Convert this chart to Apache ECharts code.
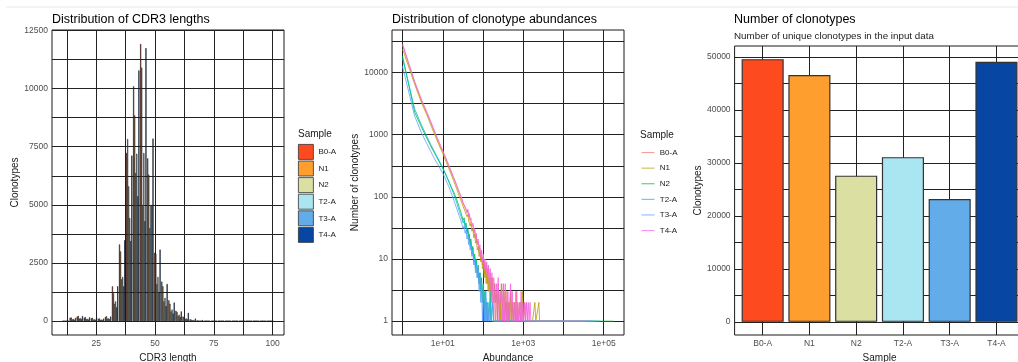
<!DOCTYPE html>
<html><head><meta charset="utf-8">
<script src="https://cdn.jsdelivr.net/npm/echarts@6/dist/echarts.min.js"></script>
<style>html,body{margin:0;padding:0;background:#fff}#c{width:1018px;height:362px}</style>
</head><body><div id="c"></div>
<script>
// ---------- data ----------
const samples = ['B0-A', 'N1', 'N2', 'T2-A', 'T3-A', 'T4-A'];
const barColors = ['#FD4B1F', '#FE9E2F', '#DBDFA2', '#A9E6F1', '#63ACEA', '#0747A3'];
const lineColors = ['#F8766D', '#B79F00', '#00BA38', '#00BFC4', '#619CFF', '#F564E3'];

// Panel 1: CDR3 length distribution
const cdr3Lengths = [12,15,18,21,24,27,30,33,36,39,42,45,48,51,54,57,60,63,66,69,72,75,78,81,84,87,90,93,96,99];
const lenB0A = [30,150,200,150,120,100,180,1500,3300,7230,10100,11920,7000,2940,1700,900,450,200,80,40,20,15,8,5,3,2,1,1,0,1];
const lenN1  = [20,160,230,180,150,120,220,1200,3000,7830,8850,10900,6300,2900,1500,750,400,180,70,30,15,10,5,3,2,1,1,0,0,0];
const lenN2  = [10,80,110,90,70,60,110,750,1800,5800,6370,5000,4000,1600,850,420,230,100,40,20,10,6,3,2,1,1,0,0,0,0];
const lenT2A = [10,90,130,100,80,70,120,850,1900,4440,7200,7230,5000,1900,1000,500,280,120,50,20,10,6,3,2,1,0,0,0,0,0];
const lenT3A = [10,60,90,70,60,50,90,600,1500,3450,5370,4300,5000,1250,650,330,180,80,30,15,8,4,2,1,0,0,0,0,0,0];
const lenT4A = [20,140,220,170,150,110,200,1500,3480,7120,10780,11740,7850,3080,1600,800,420,360,110,50,25,15,8,4,3,2,1,1,1,1];
const lengthLabelTicks = [25, 50, 75, 100];
const lengthGridTicks = [12.5, 25, 37.5, 50, 62.5, 75, 87.5, 100];
const lengthCountLabelTicks = [0, 2500, 5000, 7500, 10000, 12500];
const lengthCountGridTicks = [0, 1250, 2500, 3750, 5000, 6250, 7500, 8750, 10000, 11250, 12500];

// Panel 2: clonotype abundance distribution [abundance, number of clonotypes]
const abundB0A = [[1,27500],[2,7000],[3,3450],[4,2250],[5,1580],[6,1170],[7,910],[8,745],[9,620],[10,535],[11,460],[12,400],[13,355],[14,315],[15,282],[16,254],[17,230],[18,210],[19,193],[20,178],[22,152],[24,130],[26,113],[28,100],[30,89],[32,78],[34,82],[36,66],[38,70],[40,55],[42,60],[44,47],[46,51],[48,40],[50,43],[53,33],[56,36],[59,26],[62,29],[65,21],[68,24],[72,17],[76,19],[80,13],[84,15],[88,10],[92,13],[97,8],[102,11],[107,6],[112,9],[118,5],[124,8],[130,4],[137,7],[144,3],[151,6],[159,2],[167,5],[176,3],[185,1],[195,4],[205,2],[216,3],[227,1],[239,4],[251,2],[264,1],[278,3],[292,1],[307,2],[323,4],[340,1],[357,2],[376,1],[395,3],[416,1],[437,2],[460,1],[484,3],[509,1],[535,2],[563,1],[592,1],[623,2],[655,1],[689,3],[725,1],[763,1],[802,2],[844,1],[888,1],[934,2],[982,1],[1100,1],[1200,2],[1300,1],[1500,1],[1800,1],[4500,1],[52000,1]];
const abundN1 = [[1,24000],[2,6500],[3,3200],[4,2100],[5,1450],[6,1080],[7,850],[8,690],[9,580],[10,500],[11,430],[12,372],[13,326],[14,290],[15,260],[16,233],[17,211],[18,192],[19,175],[20,160],[22,136],[24,116],[26,101],[28,89],[30,79],[32,70],[34,74],[36,58],[38,62],[40,48],[42,52],[44,41],[46,44],[48,34],[50,37],[53,28],[56,31],[59,22],[62,25],[65,18],[68,21],[72,14],[76,16],[80,11],[84,13],[88,9],[92,11],[97,7],[102,9],[107,5],[113,8],[120,4],[127,7],[134,3],[141,5],[149,4],[157,2],[166,5],[175,3],[185,2],[195,4],[206,2],[218,3],[230,1],[243,3],[256,2],[270,1],[285,4],[301,2],[318,1],[336,2],[355,3],[375,1],[396,2],[418,1],[441,2],[466,1],[492,3],[520,1],[549,2],[580,1],[612,2],[646,1],[682,1],[720,2],[760,1],[802,1],[850,2],[900,1],[960,3],[1010,1],[1080,2],[1150,1],[1250,1],[1380,1],[1520,1],[1700,1],[1950,2],[2050,1],[2450,2],[2550,1],[3000,1],[9000,1]];
const abundN2 = [[1,18500],[2,2300],[3,1300],[4,880],[5,660],[6,530],[7,440],[8,375],[9,325],[10,285],[11,250],[12,222],[13,198],[14,178],[15,162],[16,148],[17,136],[18,126],[19,117],[20,110],[22,92],[24,78],[26,66],[28,57],[30,49],[32,42],[34,46],[36,35],[38,38],[40,28],[42,31],[44,23],[46,25],[48,18],[50,21],[53,14],[56,16],[59,10],[62,12],[65,8],[68,10],[72,6],[76,8],[80,4],[84,6],[88,3],[92,5],[97,2],[102,4],[107,1],[112,3],[118,1],[124,2],[131,1],[139,1],[148,2],[158,1],[175,1],[210,1],[350,1],[1200,1],[175000,1]];
const abundT2A = [[1,17000],[2,2600],[3,1400],[4,950],[5,700],[6,560],[7,460],[8,390],[9,335],[10,295],[11,258],[12,228],[13,202],[14,180],[15,160],[16,144],[17,130],[18,118],[19,108],[20,99],[22,82],[24,68],[26,58],[28,50],[30,44],[32,38],[34,42],[36,31],[38,35],[40,25],[42,29],[44,20],[46,23],[48,16],[50,19],[53,12],[56,15],[59,9],[62,11],[65,7],[68,9],[72,5],[76,7],[80,4],[84,6],[88,3],[92,4],[97,2],[102,4],[107,1],[113,3],[119,2],[126,1],[133,2],[141,1],[150,3],[160,1],[170,2],[182,1],[196,1],[230,1],[320,1],[800,1],[4000,1],[80000,1]];
const abundT3A = [[1,12500],[2,2000],[3,1050],[4,720],[5,540],[6,430],[7,360],[8,310],[9,270],[10,240],[11,210],[12,185],[13,165],[14,148],[15,132],[16,118],[17,106],[18,96],[19,87],[20,79],[22,66],[24,56],[26,48],[28,42],[30,36],[32,31],[34,34],[36,26],[38,29],[40,21],[42,24],[44,17],[46,20],[48,14],[50,16],[53,11],[56,13],[59,8],[62,10],[65,6],[68,8],[72,5],[76,7],[80,3],[84,5],[88,2],[92,4],[97,1],[102,3],[107,2],[112,1],[118,3],[124,1],[130,2],[137,1],[145,2],[153,1],[162,1],[172,2],[185,1],[210,1],[290,1],[600,1],[2500,1],[60000,1]];
const abundT4A = [[1,29000],[2,7200],[3,3600],[4,2350],[5,1650],[6,1230],[7,960],[8,780],[9,650],[10,560],[11,480],[12,420],[13,370],[14,330],[15,295],[16,265],[17,240],[18,218],[19,200],[20,185],[22,158],[24,135],[26,118],[28,104],[30,93],[32,80],[34,86],[36,70],[38,74],[40,58],[42,63],[44,50],[46,54],[48,42],[50,46],[53,35],[56,38],[59,28],[62,31],[65,23],[68,26],[72,18],[76,21],[80,14],[84,17],[88,11],[92,14],[97,9],[102,12],[107,7],[112,10],[118,6],[124,9],[130,5],[137,8],[144,4],[151,7],[159,3],[167,6],[176,2],[185,5],[195,3],[205,1],[216,4],[227,2],[239,5],[251,1],[264,3],[278,2],[292,4],[307,1],[323,3],[340,1],[357,4],[376,2],[395,1],[416,3],[437,1],[460,2],[484,4],[509,1],[535,3],[563,1],[592,2],[623,1],[655,3],[689,1],[725,2],[763,1],[802,2],[844,1],[888,3],[934,1],[982,2],[1033,1],[1087,2],[1143,1],[1203,2],[1265,1],[1331,2],[1400,1],[1473,2],[1550,1],[1630,1],[2000,1],[8000,1],[36000,1]];
const abundExpLabelTicks = [1, 3, 5];
const abundExpGridTicks = [0, 1, 2, 3, 4, 5];
const countExpLabelTicks = [0, 1, 2, 3, 4];
const countExpGridTicks = [0, 0.5, 1, 1.5, 2, 2.5, 3, 3.5, 4, 4.5];

// Panel 3: number of clonotypes per sample
const clonotypeTotals = [49600, 46600, 27600, 31100, 23200, 49100];
const totalsLabelTicks = [0, 10000, 20000, 30000, 40000, 50000];
const totalsGridTicks = [0, 5000, 10000, 15000, 20000, 25000, 30000, 35000, 40000, 45000, 50000];

// ---------- build ----------
const FONT = 'Liberation Sans, Arial, sans-serif';
const lengthSets = [lenB0A, lenN1, lenN2, lenT2A, lenT3A, lenT4A];
const abundSets = [abundB0A, abundN1, abundN2, abundT2A, abundT3A, abundT4A];
const GRIDLINE = { show: true, lineStyle: { color: '#222', width: 1 } };

function axis(gridIndex, min, max, labelVals, gridVals, fmt, name, nameGap) {
  return {
    type: 'value', gridIndex, min, max,
    axisLine: { show: false },
    axisTick: { show: false, customValues: gridVals },
    splitLine: GRIDLINE,
    axisLabel: { customValues: labelVals, formatter: fmt, color: '#4D4D4D', fontSize: 8.5, fontFamily: FONT, margin: 4 },
    name, nameLocation: 'middle', nameGap,
    nameTextStyle: { color: '#1a1a1a', fontSize: 10, fontFamily: FONT }
  };
}

const series = [];
samples.forEach((s, i) => {
  series.push({
    type: 'bar', name: s, xAxisIndex: 0, yAxisIndex: 0,
    data: cdr3Lengths.map((L, j) => [L, lengthSets[i][j]]),
    barGap: '0%', barCategoryGap: '10%',
    itemStyle: { color: barColors[i], borderColor: '#111', borderWidth: 0.55 }
  });
});
samples.forEach((s, i) => {
  series.push({
    type: 'line', name: 'line:' + s, xAxisIndex: 1, yAxisIndex: 1,
    symbol: 'none', showSymbol: false,
    data: abundSets[i].map(p => [Math.log10(p[0]), Math.log10(p[1])]),
    lineStyle: { color: lineColors[i], width: 1, opacity: 0.8 },
    itemStyle: { color: lineColors[i] }
  });
});
series.push({
  type: 'bar', name: 'totals', xAxisIndex: 2, yAxisIndex: 2,
  barCategoryGap: '10%',
  data: clonotypeTotals.map((v, i) => ({ value: [i + 1, v], itemStyle: { color: barColors[i] } })),
  itemStyle: { borderColor: '#333', borderWidth: 1.2 }
});

const titleStyle = { fontSize: 12.5, fontWeight: 'normal', color: '#000', fontFamily: FONT };
const legTitleStyle = { fontSize: 10, fontWeight: 'normal', color: '#1a1a1a', fontFamily: FONT };
const gridBase = { show: true, borderColor: '#1a1a1a', borderWidth: 1, containLabel: false, outerBoundsMode: 'none' };
const LINE_ICON = 'path://M0,0 L0,0 M13,14 L13,14 M0,6.5 L13,6.5 L13,7.6 L0,7.6 Z';

const option = {
  animation: false,
  backgroundColor: '#fff',
  title: [
    { text: 'Distribution of CDR3 lengths', left: 52, top: 13, padding: 0, textStyle: titleStyle },
    { text: 'Distribution of clonotype abundances', left: 392, top: 13, padding: 0, textStyle: titleStyle },
    { text: 'Number of clonotypes', left: 734, top: 13, padding: 0, textStyle: titleStyle },
    { text: 'Number of unique clonotypes in the input data', left: 734, top: 31, padding: 0,
      textStyle: { fontSize: 9.8, fontWeight: 'normal', color: '#1a1a1a', fontFamily: FONT } },
    { text: 'Sample', left: 298, top: 129, padding: 0, textStyle: legTitleStyle },
    { text: 'Sample', left: 640, top: 130, padding: 0, textStyle: legTitleStyle }
  ],
  legend: [
    { data: samples, orient: 'vertical', left: 298, top: 144, padding: 0,
      itemWidth: 15, itemHeight: 15, itemGap: 0.8, icon: 'rect', selectedMode: false,
      itemStyle: { borderColor: '#333', borderWidth: 0.8 },
      textStyle: { fontSize: 8, color: '#222', fontFamily: FONT } },
    { data: samples.map(s => 'line:' + s), formatter: n => n.slice(5),
      orient: 'vertical', left: 641.5, top: 145.5, padding: 0,
      icon: LINE_ICON, itemWidth: 13.5, itemHeight: 14, itemGap: 1.6, selectedMode: false,
      itemStyle: { opacity: 0.7, borderWidth: 0 },
      textStyle: { fontSize: 8, color: '#222', fontFamily: FONT } }
  ],
  grid: [
    Object.assign({ left: 52, top: 30, width: 232, height: 305 }, gridBase),
    Object.assign({ left: 392, top: 30, width: 232, height: 305 }, gridBase),
    Object.assign({ left: 734.6, top: 46, width: 289.9, height: 289 }, gridBase)
  ],
  xAxis: [
    axis(0, 6.165, 104.835, lengthLabelTicks, lengthGridTicks, v => String(v), 'CDR3 length', 15),
    axis(1, -0.262, 5.505, abundExpLabelTicks, abundExpGridTicks, v => '1e+0' + v, 'Abundance', 15),
    axis(2, 0.4, 6.6, [1, 2, 3, 4, 5, 6], [1, 2, 3, 4, 5, 6], v => samples[Math.round(v) - 1], 'Sample', 15)
  ],
  yAxis: [
    axis(0, -596, 12516, lengthCountLabelTicks, lengthCountGridTicks, v => String(v), 'Clonotypes', 30),
    axis(1, -0.223, 4.685, countExpLabelTicks, countExpGridTicks, v => String(Math.round(Math.pow(10, v))), 'Number of clonotypes', 24),
    axis(2, -2480, 52080, totalsLabelTicks, totalsGridTicks, v => String(v), 'Clonotypes', 30)
  ],
  graphic: [
    { type: 'line', shape: { x1: 6, y1: 7, x2: 1018, y2: 7 }, style: { stroke: '#e8e8e8', lineWidth: 1 }, silent: true }
  ],
  series
};

const chart = echarts.init(document.getElementById('c'), null, { renderer: 'canvas' });
chart.setOption(option);
</script>
</body></html>
